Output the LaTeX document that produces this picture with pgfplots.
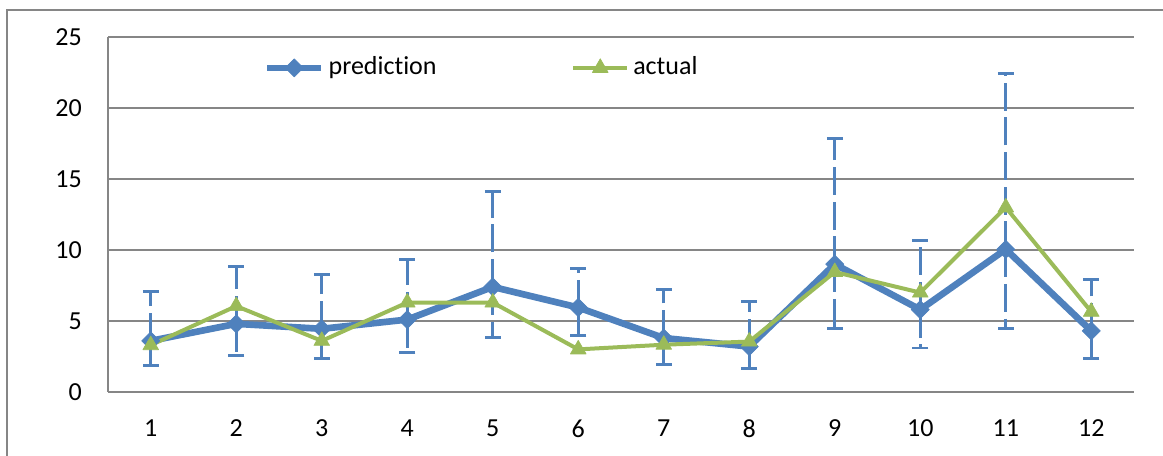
\documentclass[border=0pt]{standalone}
\usepackage{pgfplots}
\pgfplotsset{compat=1.18}
\usepackage{fontspec}
\setmainfont{Carlito}[Ligatures=NoCommon]
\definecolor{pblue}{HTML}{4F81BD}
\definecolor{agreen}{HTML}{9BBB59}
\definecolor{gridgray}{HTML}{868686}
\begin{document}
\fontsize{19.5}{23}\selectfont
\begin{tikzpicture}
\path[use as bounding box] (0,0) rectangle (872.25pt,342pt);
\begin{scope}
\clip (0,0) rectangle (872.25pt,342pt);
\draw[gridgray, line width=1.2pt] (5.25pt,-10pt) rectangle (900pt,334.5pt);
\end{scope}
\begin{axis}[
  at={(81pt,48pt)}, anchor=south west,
  scale only axis, width=769.5pt, height=266.25pt,
  xmin=0.5, xmax=12.5, ymin=0, ymax=25,
  xtick={1,2,...,12}, ytick={0,5,...,25},
  ymajorgrids, grid style={gridgray, line width=1.5pt},
  axis x line*=bottom, axis y line*=left,
  axis line style={gridgray, line width=1.5pt},
  major tick length=0pt,
  tick label style={font=\fontsize{19.5}{23}\selectfont, text=black},
  /pgf/number format/assume math mode=true,
  yticklabel style={anchor=east, inner sep=0pt, xshift=-19.5pt},
  xticklabel style={anchor=north, inner sep=0pt, yshift=-20.5pt},
  legend columns=2,
  legend style={draw=none, fill=none, at={(0.152,0.913)}, anchor=west,
    inner sep=0pt, outer sep=0pt, font=\fontsize{19.5}{23}\selectfont,
    nodes={inner xsep=3pt, inner ysep=2pt},
    /tikz/column 2/.style={column sep=98pt}},
  legend image code/.code={\draw[#1, mark repeat=2, mark phase=2] plot coordinates {(0pt,0pt)(20.25pt,0pt)(40.5pt,0pt)};},
]
\addplot[pblue, line width=5pt, line join=round,
  mark=square*, mark size=4.8pt, mark options={rotate=45, line width=0.5pt, solid},
  error bars/.cd, y dir=both, y explicit, error mark=|,
  error bar style={line width=2.2pt, dash pattern=on 21pt off 5pt, pblue},
  error mark options={line width=2.2pt, mark size=6pt, pblue, solid}]
coordinates {
(1,3.6) += (0,3.45) -= (0,1.75)
(2,4.8) += (0,4.05) -= (0,2.2)
(3,4.45) += (0,3.85) -= (0,2.1)
(4,5.1) += (0,4.25) -= (0,2.35)
(5,7.4) += (0,6.75) -= (0,3.55)
(6,5.95) += (0,2.75) -= (0,1.95)
(7,3.8) += (0,3.45) -= (0,1.85)
(8,3.2) += (0,3.15) -= (0,1.55)
(9,9.0) += (0,8.85) -= (0,4.55)
(10,5.8) += (0,4.9) -= (0,2.7)
(11,10.05) += (0,12.35) -= (0,5.55)
(12,4.3) += (0,3.6) -= (0,1.95)
};
\addlegendentry{prediction}
\addplot[agreen, line width=3pt, line join=round,
  mark=triangle*, mark size=6.8pt, mark options={line width=0.5pt, solid}]
coordinates {
(1,3.3) (2,6.05) (3,3.6) (4,6.3) (5,6.3) (6,3.0) (7,3.33) (8,3.55)
(9,8.45) (10,7.0) (11,13.0) (12,5.65)
};
\addlegendentry{actual}
\end{axis}
\end{tikzpicture}
\end{document}
